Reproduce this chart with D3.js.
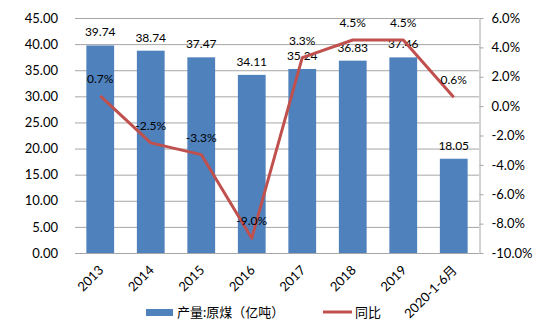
<!DOCTYPE html>
<html>
<head>
<meta charset="utf-8">
<script src="https://cdn.jsdelivr.net/npm/d3@7/dist/d3.min.js"></script>
<style>
  html, body { margin: 0; padding: 0; background: #fff; }
  svg { display: block; font-family: Lato, "Noto Sans CJK SC", sans-serif; }
</style>
</head>
<body>
<svg id="chart" width="550" height="333"></svg>
<script>
// Raw coal output (100 million tonnes) and year-on-year growth
const categories = ["2013", "2014", "2015", "2016", "2017", "2018", "2019", "2020-1-6月"];
const output = [39.74, 38.74, 37.47, 34.11, 35.24, 36.83, 37.46, 18.05];
const growth = [0.7, -2.5, -3.3, -9.0, 3.3, 4.5, 4.5, 0.6];
const leftTicks = [0, 5, 10, 15, 20, 25, 30, 35, 40, 45];
const rightTicks = [-10, -8, -6, -4, -2, 0, 2, 4, 6];
const legendLabels = ["产量:原煤（亿吨）", "同比"];

const svg = d3.select("#chart");
const plot = { left: 75, right: 479, top: 18, bottom: 253 };
const barColor = "#4f81bd", lineColor = "#c0504d", gridColor = "#a6a6a6";

const x = d3.scaleBand().domain(categories).range([plot.left, plot.right]).paddingInner(0.45).paddingOuter(0.225);
const xc = d3.scalePoint().domain(categories).range([plot.left, plot.right]).padding(0.5);
const yL = d3.scaleLinear().domain([0, 45]).range([plot.bottom, plot.top]);
const yR = d3.scaleLinear().domain([-10, 6]).range([plot.bottom, plot.top]);

// gridlines
svg.append("g").selectAll("line").data(leftTicks).join("line")
  .attr("x1", plot.left).attr("x2", plot.right)
  .attr("y1", d => yL(d) + 0.5).attr("y2", d => yL(d) + 0.5)
  .attr("stroke", gridColor).attr("stroke-width", 1);

// left axis labels
const axL = svg.append("g").attr("transform", `translate(${plot.left},0)`)
  .call(d3.axisLeft(yL).tickValues(leftTicks).tickFormat(d3.format(".2f")).tickSize(0).tickPadding(17));
axL.select(".domain").remove();
axL.selectAll("text").attr("font-size", 13).attr("fill", "#000").attr("font-family", "Lato");

// right axis
const axR = svg.append("g").attr("transform", `translate(${plot.right + 0.5},0)`)
  .call(d3.axisRight(yR).tickValues(rightTicks).tickFormat(d => d.toFixed(1) + "%").tickSize(4).tickSizeOuter(0).tickPadding(8));
axR.select(".domain").attr("stroke", gridColor);
axR.selectAll(".tick line").attr("stroke", gridColor);
axR.selectAll("text").attr("font-size", 13).attr("fill", "#000").attr("font-family", "Lato");

// bars
svg.append("g").selectAll("rect").data(output).join("rect")
  .attr("x", (d, i) => x(categories[i]))
  .attr("width", x.bandwidth())
  .attr("y", d => yL(d))
  .attr("height", d => yL(0) - yL(d))
  .attr("fill", barColor);

// bar value labels
svg.append("g").selectAll("text").data(output).join("text")
  .attr("x", (d, i) => xc(categories[i]))
  .attr("y", d => yL(d) - 9)
  .attr("text-anchor", "middle").attr("font-size", 12).attr("fill", "#000")
  .text(d => d.toFixed(2));

// growth line
const line = d3.line().x((d, i) => xc(categories[i])).y(d => yR(d));
svg.append("path").datum(growth)
  .attr("d", line).attr("fill", "none")
  .attr("stroke", lineColor).attr("stroke-width", 3).attr("stroke-linejoin", "round");

// growth labels
svg.append("g").selectAll("text").data(growth).join("text")
  .attr("x", (d, i) => xc(categories[i]))
  .attr("y", d => yR(d) - 13)
  .attr("text-anchor", "middle").attr("font-size", 12).attr("fill", "#000")
  .text(d => d.toFixed(1) + "%");

// category labels, rotated
svg.append("g").selectAll("text").data(categories).join("text")
  .attr("transform", d => `translate(${xc(d) + 4},${plot.bottom + 18}) rotate(-45)`)
  .attr("text-anchor", "end").attr("font-size", 13).attr("fill", "#000")
  .text(d => d);

// legend
const lg = svg.append("g");
lg.append("rect").attr("x", 146).attr("y", 309).attr("width", 27).attr("height", 7).attr("fill", barColor);
lg.append("text").attr("x", 177).attr("y", 317).attr("font-size", 13).attr("fill", "#000").text(legendLabels[0]);
lg.append("line").attr("x1", 323).attr("x2", 352).attr("y1", 312).attr("y2", 312)
  .attr("stroke", lineColor).attr("stroke-width", 3);
lg.append("text").attr("x", 355).attr("y", 317).attr("font-size", 13).attr("fill", "#000").text(legendLabels[1]);
</script>
</body>
</html>
